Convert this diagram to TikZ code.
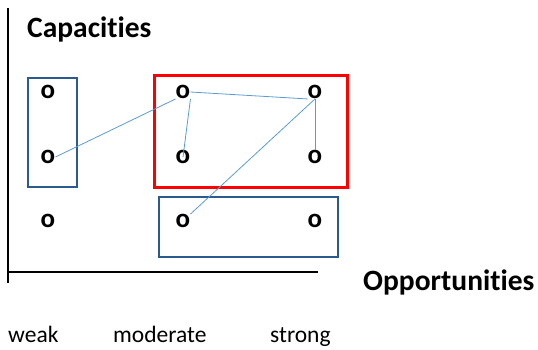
\documentclass[tikz,border=0pt]{standalone}
\usepackage{fontspec}
\setmainfont{Carlito}[Ligatures=NoCommon]
\definecolor{boxblue}{HTML}{2B5A8C}
\definecolor{linkblue}{HTML}{5B9BD5}
\begin{document}
\begin{tikzpicture}[x=1pt,y=-1pt,
  dot/.style={inner sep=0pt,font=\fontsize{27}{27}\selectfont\bfseries},
  link/.style={linkblue,line width=0.8pt},
  group/.style={draw=boxblue,line width=2pt},
  axislbl/.style={anchor=base west,inner sep=0pt,font=\fontsize{29.5}{29.5}\selectfont\bfseries},
  level/.style={anchor=base west,inner sep=0pt,font=\fontsize{23.5}{23.5}\selectfont}]
  \useasboundingbox (0,0) rectangle (538,349);
  % axes
  \draw[line width=1.2pt] (8,8) -- (8,283);
  \draw[line width=1.2pt] (9,272) -- (318,272);
  \node[axislbl] (cap) at (27,37) {Capacities};
  \node[axislbl] (opp) at (363,290) {Opportunities};
  \node[level] (weak) at (8,342) {weak};
  \node[level] (mod) at (113,342) {moderate};
  \node[level] (str) at (270,342) {strong};
  % groups
  \draw[group] (28,78) rectangle (77,187);
  \draw[red,line width=3pt] (154,75) rectangle (347,187);
  \draw[group] (159,197) rectangle (338,257);
  % the o's
  \node[dot] (A1) at (48,92) {o};
  \node[dot] (A2) at (48,157) {o};
  \node[dot] (A3) at (48,221) {o};
  \node[dot] (B1) at (183,92) {o};
  \node[dot] (B2) at (183,157) {o};
  \node[dot] (B3) at (183,221) {o};
  \node[dot] (C1) at (315,92) {o};
  \node[dot] (C2) at (315,157) {o};
  \node[dot] (C3) at (315,221) {o};
  %\draw[link] (A1) -- (A2);
  \draw[link] (A2.east) -- (B1.south west);
  \draw[link] (B1.east) -- (C1.south west);
  \draw[link] (B1.south east) -- (B2.center);
  \draw[link] (C1.south) -- (C2.north);
  \draw[link] (C1.south) -- (B3.north east);
\end{tikzpicture}
\end{document}
